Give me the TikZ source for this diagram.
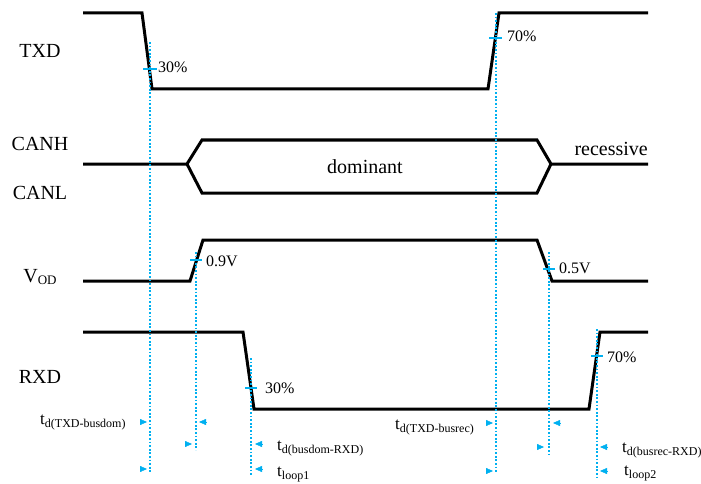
\documentclass[tikz,border=0pt]{standalone}
\usepackage{fontspec}
\setmainfont{Liberation Serif}
\usepackage{tikz}
\usetikzlibrary{positioning}
\usetikzlibrary{arrows.meta}
\definecolor{guidecyan}{RGB}{0,176,240}
\newcommand{\tdel}[1]{t\raisebox{-3pt}{\fontsize{12}{12}\selectfont #1}}
\tikzset{
  wave/.style={line width=3pt, line join=miter},
  guide/.style={guidecyan, line width=1.3pt, dash pattern=on 1.8pt off 1.8pt},
  tick/.style={guidecyan, line width=1.5pt},
  marker/.style={guidecyan, line width=0.4pt, -{Triangle[length=7pt,width=6pt]}},
  siglabel/.style={font=\fontsize{20}{20}\selectfont, anchor=base, inner sep=0pt},
  pct/.style={font=\fontsize{16}{16}\selectfont, anchor=base west, inner sep=0pt},
  tlabel/.style={font=\fontsize{17}{17}\selectfont, anchor=base west, inner sep=0pt}
}

\begin{document}
\begin{tikzpicture}[x=1pt, y=-1pt]
      \useasboundingbox (0,0) rectangle (701,484);

      % signal names
      \node(txd) [siglabel] at (40,58) {TXD};
      \node(canh) [siglabel] at (40,150) {CANH};
      \node(canl) [siglabel] at (40,199) {CANL};
      \node(vod) [siglabel] at (40,282) {V\raisebox{-2pt}{\fontsize{13}{13}\selectfont OD}};
      \node(rxd) [siglabel] at (40,383) {RXD};
      \node(dom) [siglabel] at (365,173) {dominant};
      \node(rec) [siglabel, anchor=base east] at (648,155) {recessive};

      % waveforms
      \draw[wave] (83,13) -- (142,13) -- (152,89) -- (488,89) -- (499,13) -- (648,13);
      \draw[wave] (83,164) -- (187,164) -- (202,140) -- (537,140) -- (551,164) -- (648,164);
      \draw[wave] (187,164) -- (202,193) -- (537,193) -- (551,164);
      \draw[wave] (83,281) -- (190,281) -- (203,240) -- (537,240) -- (552,281) -- (648,281);
      \draw[wave] (83,332) -- (243,332) -- (254,409) -- (589,409) -- (600,332) -- (648,332);

      % guide lines
      \draw[guide] (150,42) -- (150,472);
      \draw[guide] (496,13) -- (496,472);
      \draw[guide] (196,252) -- (196,450);
      \draw[guide] (549,252) -- (549,455);
      \draw[guide] (251,358) -- (251,476);
      \draw[guide] (597,329) -- (597,478);

      % threshold ticks
      \draw[tick] (143,69) -- (157,69);
      \draw[tick] (489,38) -- (502,38);
      \draw[tick] (190,260) -- (202,260);
      \draw[tick] (543,269) -- (555,269);
      \draw[tick] (245,388) -- (257,388);
      \draw[tick] (591,356) -- (603,356);

      % threshold values
      \node(p30a) [pct] at (158,73) {30\%};
      \node(p70a) [pct] at (507,42) {70\%};
      \node(p09) [pct] at (206,266) {0.9V};
      \node(p05) [pct] at (559,273) {0.5V};
      \node(p30b) [pct] at (265,393) {30\%};
      \node(p70b) [pct] at (607,362) {70\%};

      % delay markers
      \draw[marker] (140,422) -- (147,422);
      \draw[marker] (206,422) -- (199,422);
      \draw[marker] (185,444) -- (192,444);
      \draw[marker] (262,444) -- (255,444);
      \draw[marker] (140,469) -- (147,469);
      \draw[marker] (262,469) -- (255,469);
      \draw[marker] (486,423) -- (493,423);
      \draw[marker] (560,423) -- (553,423);
      \draw[marker] (537,447) -- (544,447);
      \draw[marker] (607,447) -- (600,447);
      \draw[marker] (486,471) -- (493,471);
      \draw[marker] (607,471) -- (600,471);

      % delay names
      \node(tdom) [tlabel] at (40,424) {\tdel{d(TXD-busdom)}};
      \node(tdomrx) [tlabel] at (277,450) {\tdel{d(busdom-RXD)}};
      \node(tl1) [tlabel] at (277,476) {\tdel{loop1}};
      \node(trec) [tlabel] at (395,429) {\tdel{d(TXD-busrec)}};
      \node(trecrx) [tlabel] at (622,452) {\tdel{d(busrec-RXD)}};
      \node(tl2) [tlabel] at (624,475) {\tdel{loop2}};
\end{tikzpicture}
\end{document}
